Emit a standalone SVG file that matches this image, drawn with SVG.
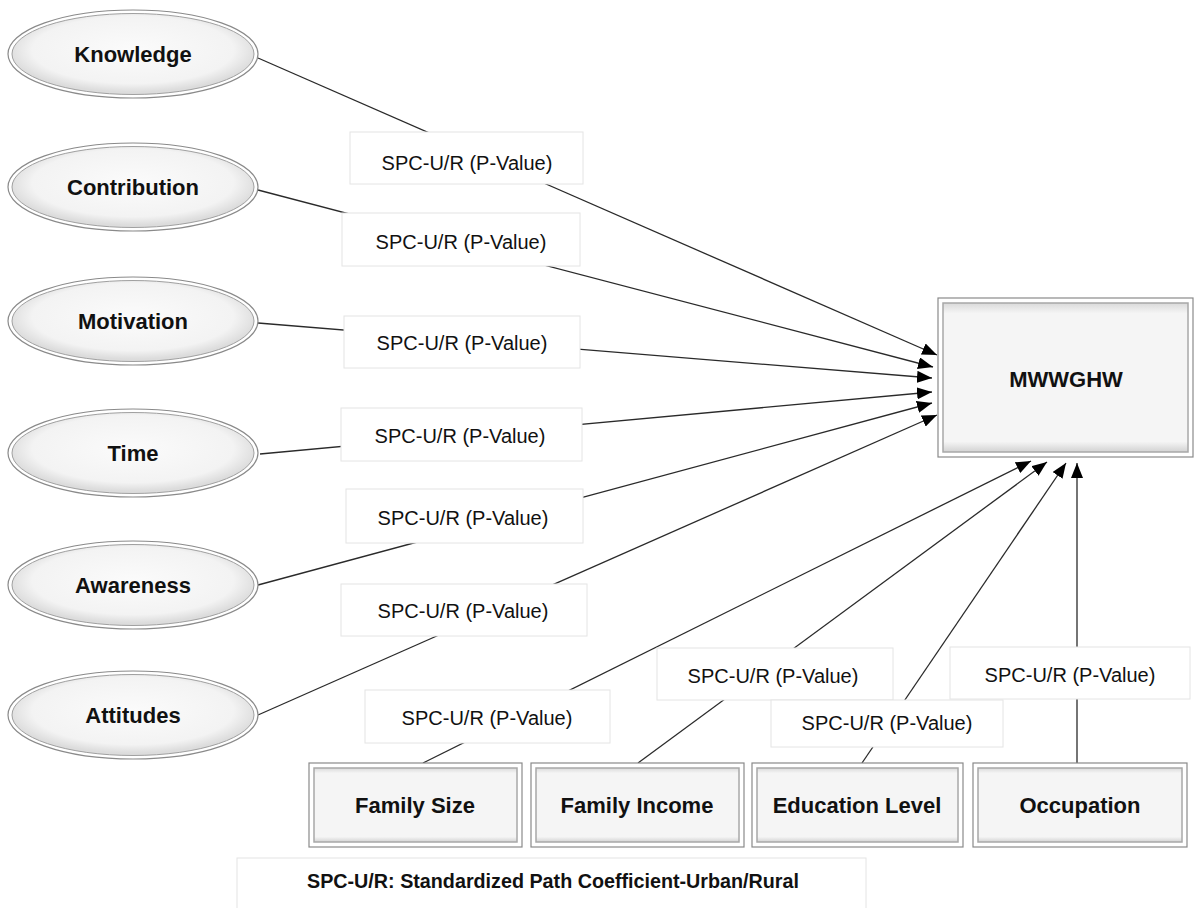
<svg xmlns="http://www.w3.org/2000/svg" width="1194" height="908" viewBox="0 0 1194 908">
<defs>
<radialGradient id="eg" cx="50%" cy="45%" r="52%">
<stop offset="0" stop-color="#fbfbfb"/>
<stop offset="0.8" stop-color="#f3f3f3"/>
<stop offset="1" stop-color="#dcdcdc"/>
</radialGradient>
<linearGradient id="bh" x1="0" y1="0" x2="0" y2="1">
<stop offset="0" stop-color="#dadada"/>
<stop offset="0.07" stop-color="#f5f5f5"/>
<stop offset="0.93" stop-color="#f5f5f5"/>
<stop offset="1" stop-color="#d2d2d2"/>
</linearGradient>
<marker id="ah" viewBox="0 0 15 12" refX="15" refY="6" markerWidth="15" markerHeight="12" markerUnits="userSpaceOnUse" orient="auto">
<path d="M0,0 L15,6 L0,12 Z" fill="#000"/>
</marker>
<style>
.ell-o{fill:#fff;stroke:#8a8a8a;stroke-width:1.2}
.ell-i{fill:url(#eg);stroke:#a0a0a0;stroke-width:1}
.box-o{fill:#fff;stroke:#8a8a8a;stroke-width:1.2}
.box-i{fill:url(#bh);stroke:#a8a8a8;stroke-width:1.5}
.nt{font-family:"Liberation Sans",Arial,sans-serif;font-weight:bold;font-size:22px;fill:#111;text-anchor:middle}
.lb{fill:#fff;stroke:#e4e4e4;stroke-width:1}
.lt{font-family:"Liberation Sans",Arial,sans-serif;font-size:20px;fill:#111;text-anchor:middle}
.cn{stroke:#2a2a2a;stroke-width:1.3;fill:none}
.ft{font-family:"Liberation Sans",Arial,sans-serif;font-weight:bold;font-size:21px;fill:#111;text-anchor:middle}
</style>
</defs>
<rect width="1194" height="908" fill="#fff"/>

<g id="connectors">
<line class="cn" x1="258" y1="58" x2="937" y2="355" marker-end="url(#ah)"/>
<line class="cn" x1="258" y1="190" x2="933" y2="367" marker-end="url(#ah)"/>
<line class="cn" x1="258" y1="323" x2="932" y2="378" marker-end="url(#ah)"/>
<line class="cn" x1="260" y1="454" x2="932" y2="392" marker-end="url(#ah)"/>
<line class="cn" x1="258" y1="585" x2="932" y2="403" marker-end="url(#ah)"/>
<line class="cn" x1="258" y1="715" x2="937" y2="415" marker-end="url(#ah)"/>
<line class="cn" x1="423" y1="763" x2="1031" y2="461" marker-end="url(#ah)"/>
<line class="cn" x1="638" y1="763" x2="1047" y2="462" marker-end="url(#ah)"/>
<line class="cn" x1="862" y1="763" x2="1066" y2="463" marker-end="url(#ah)"/>
<line class="cn" x1="1077" y1="763" x2="1077" y2="463" marker-end="url(#ah)"/>
</g>

<g id="labels">
<g id="lab-knowledge"><rect class="lb" x="350" y="132" width="233" height="52"/><text class="lt" x="467" y="170">SPC-U/R (P-Value)</text></g>
<g id="lab-contribution"><rect class="lb" x="342" y="213" width="238" height="53"/><text class="lt" x="461" y="249">SPC-U/R (P-Value)</text></g>
<g id="lab-motivation"><rect class="lb" x="344" y="316" width="236" height="52"/><text class="lt" x="462" y="350">SPC-U/R (P-Value)</text></g>
<g id="lab-time"><rect class="lb" x="341" y="408" width="241" height="53"/><text class="lt" x="460" y="443">SPC-U/R (P-Value)</text></g>
<g id="lab-awareness"><rect class="lb" x="346" y="489" width="237" height="54"/><text class="lt" x="463" y="525">SPC-U/R (P-Value)</text></g>
<g id="lab-attitudes"><rect class="lb" x="341" y="584" width="246" height="52"/><text class="lt" x="463" y="618">SPC-U/R (P-Value)</text></g>
<g id="lab-familysize"><rect class="lb" x="365" y="690" width="245" height="53"/><text class="lt" x="487" y="725">SPC-U/R (P-Value)</text></g>
<g id="lab-familyincome"><rect class="lb" x="657" y="648" width="236" height="52"/><text class="lt" x="773" y="683">SPC-U/R (P-Value)</text></g>
<g id="lab-education"><rect class="lb" x="771" y="700" width="232" height="47"/><text class="lt" x="887" y="730">SPC-U/R (P-Value)</text></g>
<g id="lab-occupation"><rect class="lb" x="950" y="647" width="240" height="52"/><text class="lt" x="1070" y="682">SPC-U/R (P-Value)</text></g>
</g>

<g id="knowledge"><ellipse class="ell-o" cx="133" cy="54" rx="125" ry="44"/><ellipse class="ell-i" cx="133" cy="54" rx="121" ry="40.5"/><text class="nt" x="133" y="62">Knowledge</text></g>
<g id="contribution"><ellipse class="ell-o" cx="133" cy="187" rx="125" ry="44"/><ellipse class="ell-i" cx="133" cy="187" rx="121" ry="40.5"/><text class="nt" x="133" y="195">Contribution</text></g>
<g id="motivation"><ellipse class="ell-o" cx="133" cy="321" rx="125" ry="44"/><ellipse class="ell-i" cx="133" cy="321" rx="121" ry="40.5"/><text class="nt" x="133" y="329">Motivation</text></g>
<g id="time"><ellipse class="ell-o" cx="133" cy="453" rx="125" ry="44"/><ellipse class="ell-i" cx="133" cy="453" rx="121" ry="40.5"/><text class="nt" x="133" y="461">Time</text></g>
<g id="awareness"><ellipse class="ell-o" cx="133" cy="585" rx="125" ry="44"/><ellipse class="ell-i" cx="133" cy="585" rx="121" ry="40.5"/><text class="nt" x="133" y="593">Awareness</text></g>
<g id="attitudes"><ellipse class="ell-o" cx="133" cy="715" rx="125" ry="44"/><ellipse class="ell-i" cx="133" cy="715" rx="121" ry="40.5"/><text class="nt" x="133" y="723">Attitudes</text></g>

<g id="mwwghw"><rect class="box-o" x="938" y="298" width="255" height="159"/><rect class="box-i" x="943" y="303" width="245" height="149"/><text class="nt" x="1066" y="387">MWWGHW</text></g>

<g id="familysize"><rect class="box-o" x="309" y="763" width="213" height="84"/><rect class="box-i" x="314" y="768" width="203" height="74"/><text class="nt" x="415" y="813">Family Size</text></g>
<g id="familyincome"><rect class="box-o" x="531" y="763" width="213" height="84"/><rect class="box-i" x="536" y="768" width="203" height="74"/><text class="nt" x="637" y="813">Family Income</text></g>
<g id="educationlevel"><rect class="box-o" x="752" y="763" width="211" height="84"/><rect class="box-i" x="757" y="768" width="201" height="74"/><text class="nt" x="857" y="813">Education Level</text></g>
<g id="occupation"><rect class="box-o" x="973" y="763" width="214" height="84"/><rect class="box-i" x="978" y="768" width="204" height="74"/><text class="nt" x="1080" y="813">Occupation</text></g>

<g id="footnote"><rect class="lb" x="237" y="858" width="629" height="52"/><text class="ft" x="553" y="888" textLength="492" lengthAdjust="spacingAndGlyphs">SPC-U/R: Standardized Path Coefficient-Urban/Rural</text></g>
</svg>
